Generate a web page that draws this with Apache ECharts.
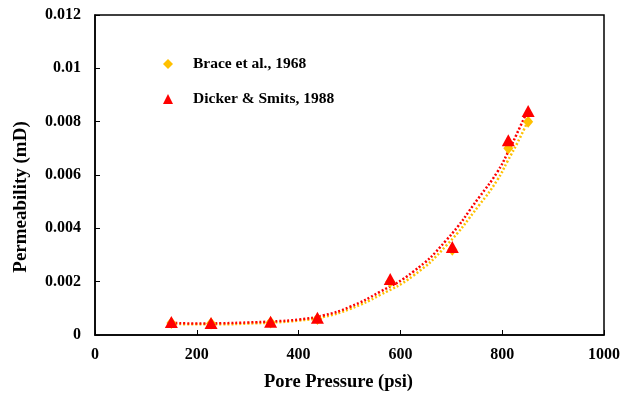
<!DOCTYPE html>
<html><head><meta charset="utf-8">
<script src="https://cdn.jsdelivr.net/npm/echarts@6/dist/echarts.min.js"></script>
<style>html,body{margin:0;padding:0;background:#fff}#c{width:631px;height:397px}</style>
</head><body><div id="c"></div>
<script>
const pressure = [150, 228, 345, 437, 580, 702, 812, 851];
const braceK  = [0.00045, 0.00043, 0.00047, 0.00060, 0.00200, 0.00320, 0.00700, 0.00800];
const dickerK = [0.00049, 0.00045, 0.00050, 0.00065, 0.00210, 0.00330, 0.00730, 0.00840];
// trendlines
const trendX      = [150, 200, 250, 300, 350, 400, 450, 500, 560, 625, 690, 756, 790, 810, 835, 852];
const dickerTrend = [0.00046,0.00043,0.00044,0.00047,0.00051,0.00058,0.00074,0.00105,0.00162,0.00237,0.00355,0.0052,0.0061,0.0068,0.0078,0.0085];
const braceTrend  = [0.00042,0.00040,0.00040,0.00043,0.00047,0.00054,0.00068,0.00097,0.00150,0.00222,0.00335,0.0049,0.0058,0.0065,0.0074,0.0081];
const xTicks = {min: 0, max: 1000, interval: 200};
const yTicks = {min: 0, max: 0.012, interval: 0.002};
const names = ['Brace et al., 1968', 'Dicker & Smits, 1988'];

const font = 'Liberation Serif';
const zip = (a, b) => a.map((v, i) => [v, b[i]]);
const chart = echarts.init(document.getElementById('c'));
chart.setOption({
  animation: false,
  grid: {left: 95, right: 27, top: 15, bottom: 62, show: true, borderColor: '#000', borderWidth: 1.5},
  legend: {
    orient: 'vertical', left: 158, top: 51, itemGap: 19, itemWidth: 10, itemHeight: 10,
    data: [{name: names[0], icon: 'diamond'}, {name: names[1], icon: 'triangle'}],
    textStyle: {fontFamily: font, fontWeight: 'bold', fontSize: 15.5, color: '#000', padding: [0,0,0,15]}
  },
  xAxis: {
    type: 'value', min: xTicks.min, max: xTicks.max, interval: xTicks.interval,
    name: 'Pore Pressure (psi)', nameLocation: 'middle', nameGap: 38,
    nameTextStyle: {fontFamily: font, fontWeight: 'bold', fontSize: 18.5, color: '#000', padding: [0, 22, 0, 0]},
    axisLine: {lineStyle: {color: '#000', width: 1.5}},
    axisTick: {inside: true, length: 5, lineStyle: {color: '#000'}},
    axisLabel: {fontFamily: font, fontWeight: 'bold', fontSize: 16, color: '#000', margin: 12,
      formatter: v => String(v)},
    splitLine: {show: false}
  },
  yAxis: {
    type: 'value', min: yTicks.min, max: yTicks.max, interval: yTicks.interval,
    name: 'Permeability (mD)', nameLocation: 'middle', nameGap: 64, nameRotate: 90,
    nameTextStyle: {fontFamily: font, fontWeight: 'bold', fontSize: 19, color: '#000', padding: [0, 44, 0, 0]},
    axisLine: {lineStyle: {color: '#000', width: 1.5}},
    axisTick: {inside: true, length: 5, lineStyle: {color: '#000'}},
    axisLabel: {fontFamily: font, fontWeight: 'bold', fontSize: 16, color: '#000', margin: 14,
      formatter: v => String(+v.toFixed(3))},
    splitLine: {show: false}
  },
  series: [
    {type: 'line', data: zip(trendX, braceTrend), smooth: true, symbol: 'none', silent: true,
      lineStyle: {color: '#FFC000', width: 2.5, type: [2, 2]}, z: 2},
    {type: 'line', data: zip(trendX, dickerTrend), smooth: true, symbol: 'none', silent: true,
      lineStyle: {color: '#FF0000', width: 2.5, type: [2, 2]}, z: 2},
    {name: names[0], type: 'scatter', data: zip(pressure, braceK), symbol: 'diamond', symbolSize: [10, 12],
      itemStyle: {color: '#FFC000', opacity: 1}, z: 3},
    {name: names[1], type: 'scatter', data: zip(pressure, dickerK), symbol: 'triangle', symbolSize: [13, 12],
      itemStyle: {color: '#FF0000', opacity: 1}, z: 4}
  ]
});
</script></body></html>
